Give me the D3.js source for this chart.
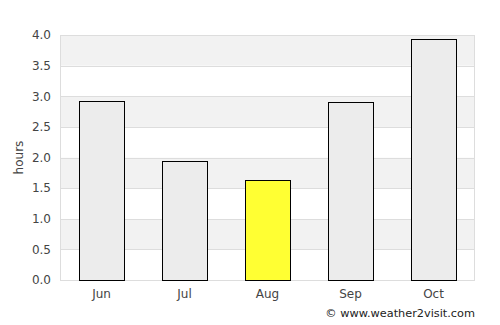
<!DOCTYPE html>
<html>
<head>
<meta charset="utf-8">
<script src="https://cdn.jsdelivr.net/npm/d3@7"></script>
<style>
  html, body { margin: 0; padding: 0; background: #fff; }
  svg { display: block; font-family: "DejaVu Sans", sans-serif; }
</style>
</head>
<body>
<div id="chart"></div>
<script>
// ── Data ─────────────────────────────────────────────
const months = ['Jun', 'Jul', 'Aug', 'Sep', 'Oct'];
const hours = [2.93, 1.95, 1.64, 2.90, 3.93];
const highlight = 'Aug';
const yTicks = [0, 0.5, 1.0, 1.5, 2.0, 2.5, 3.0, 3.5, 4.0];

const w = 500, h = 325;
const margin = { top: 35, right: 25, bottom: 45, left: 60 };
const iw = w - margin.left - margin.right;
const ih = h - margin.top - margin.bottom;

const svg = d3.select('#chart').append('svg')
  .attr('width', w)
  .attr('height', h);

const g = svg.append('g')
  .attr('transform', `translate(${margin.left},${margin.top})`);

const x = d3.scaleBand().domain(months).range([0, iw]).paddingInner(0.46).paddingOuter(0.23);
const y = d3.scaleLinear().domain([0, 4]).range([ih, 0]);

// alternating bands
const bands = yTicks.slice(0, -1).map((v, i) => [v, yTicks[i + 1]]);
g.selectAll('rect.band')
  .data(bands)
  .enter().append('rect')
  .attr('class', 'band')
  .attr('x', 0)
  .attr('width', iw)
  .attr('y', d => y(d[1]))
  .attr('height', d => y(d[0]) - y(d[1]))
  .attr('fill', (d, i) => i % 2 === 1 ? '#f2f2f2' : '#fff');

// grid lines
g.selectAll('line.grid')
  .data(yTicks)
  .enter().append('line')
  .attr('class', 'grid')
  .attr('x1', 0).attr('x2', iw)
  .attr('y1', d => Math.round(y(d)) + 0.5)
  .attr('y2', d => Math.round(y(d)) + 0.5)
  .attr('stroke', '#dddddd');

// plot frame sides
g.append('line').attr('x1', 0.5).attr('x2', 0.5).attr('y1', 0).attr('y2', ih).attr('stroke', '#dddddd');
g.append('line').attr('x1', iw - 0.5).attr('x2', iw - 0.5).attr('y1', 0).attr('y2', ih).attr('stroke', '#dddddd');

// bars
g.selectAll('rect.bar')
  .data(months)
  .enter().append('rect')
  .attr('class', 'bar')
  .attr('x', d => Math.round(x(d)) + 0.5)
  .attr('width', Math.round(x.bandwidth()))
  .attr('y', (d, i) => Math.round(y(hours[i])) + 0.5)
  .attr('height', (d, i) => Math.round(ih - y(hours[i])))
  .attr('fill', d => d === highlight ? '#ffff33' : '#ececec')
  .attr('stroke', '#000')
  .attr('stroke-width', 1);

// y axis labels
const yAxis = g.append('g')
  .call(d3.axisLeft(y).tickValues(yTicks).tickFormat(d3.format('.1f')).tickSize(0).tickPadding(9));
yAxis.select('.domain').remove();
yAxis.selectAll('text').attr('fill', '#444').attr('font-size', '12px').attr('font-family', '"DejaVu Sans", sans-serif');

// x axis labels
const xAxis = g.append('g')
  .attr('transform', `translate(0,${ih})`)
  .call(d3.axisBottom(x).tickSize(0).tickPadding(9));
xAxis.select('.domain').remove();
xAxis.selectAll('text').attr('fill', '#444').attr('font-size', '12px').attr('font-family', '"DejaVu Sans", sans-serif');

// axis title
svg.append('text')
  .attr('transform', `translate(23,${margin.top + ih / 2}) rotate(-90)`)
  .attr('text-anchor', 'middle')
  .attr('fill', '#444')
  .attr('font-size', '12px')
  .text('hours');

// credit
svg.append('text')
  .attr('x', 475)
  .attr('y', 317)
  .attr('text-anchor', 'end')
  .attr('fill', '#222')
  .attr('font-size', '11.3px')
  .text('© www.weather2visit.com');
</script>
</body>
</html>
